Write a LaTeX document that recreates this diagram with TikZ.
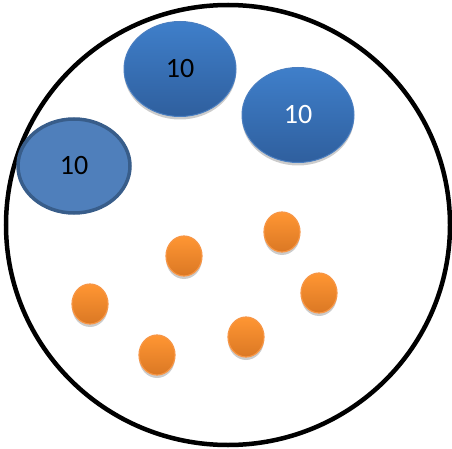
\documentclass[tikz,border=0pt]{standalone}
\usepackage{fontspec}
\setmainfont{Carlito}
\usepackage{xcolor}
\usepackage{tikz}
\usetikzlibrary{shapes.geometric,shadows}

\definecolor{bluetop}{HTML}{3F7FCA}
\definecolor{bluebot}{HTML}{2F5F9E}
\definecolor{blueedge}{HTML}{4A7EC0}
\definecolor{bluefill}{HTML}{4F7FBB}
\definecolor{bluedark}{HTML}{385D8A}
\definecolor{orangetop}{HTML}{FF9633}
\definecolor{orangebot}{HTML}{DB7824}
\definecolor{orangeedge}{HTML}{F79646}

\tikzset{
  bigblob/.style={ellipse, minimum width=112pt, minimum height=95pt, inner sep=0pt,
    draw=blueedge, line width=1pt, top color=bluetop, bottom color=bluebot,
    drop shadow={shadow xshift=0pt, shadow yshift=-3pt, opacity=0.2, fill=black},
    font=\fontsize{28}{32}\selectfont},
  flatblob/.style={ellipse, minimum width=112pt, minimum height=94pt, inner sep=0pt,
    draw=bluedark, line width=3.5pt, fill=bluefill,
    font=\fontsize{28}{32}\selectfont},
  dot/.style={ellipse, minimum width=36pt, minimum height=40pt, inner sep=0pt,
    draw=orangeedge, line width=1.2pt, top color=orangetop, bottom color=orangebot,
    drop shadow={shadow xshift=0pt, shadow yshift=-3pt, opacity=0.2, fill=black}}
}

\begin{document}
\begin{tikzpicture}[x=1pt, y=-1pt]
      \useasboundingbox[fill=white] (0,0) rectangle (452,449);

      % Outer circle
      \draw[line width=4.5pt] (228,225) ellipse [x radius=222, y radius=220];

      % Big cells
      \node[flatblob] (c1) at (74,166) {10};
      \node[bigblob] (c2) at (180,69) {10};
      \node[bigblob, text=white] (c3) at (298,115) {10};

      % Small cells
      \node[dot] (d1) at (184,256) {};
      \node[dot] (d2) at (282,232) {};
      \node[dot] (d3) at (90,304) {};
      \node[dot] (d4) at (319,293) {};
      \node[dot] (d5) at (157,355) {};
      \node[dot] (d6) at (246,337) {};
    \end{tikzpicture}
\end{document}
